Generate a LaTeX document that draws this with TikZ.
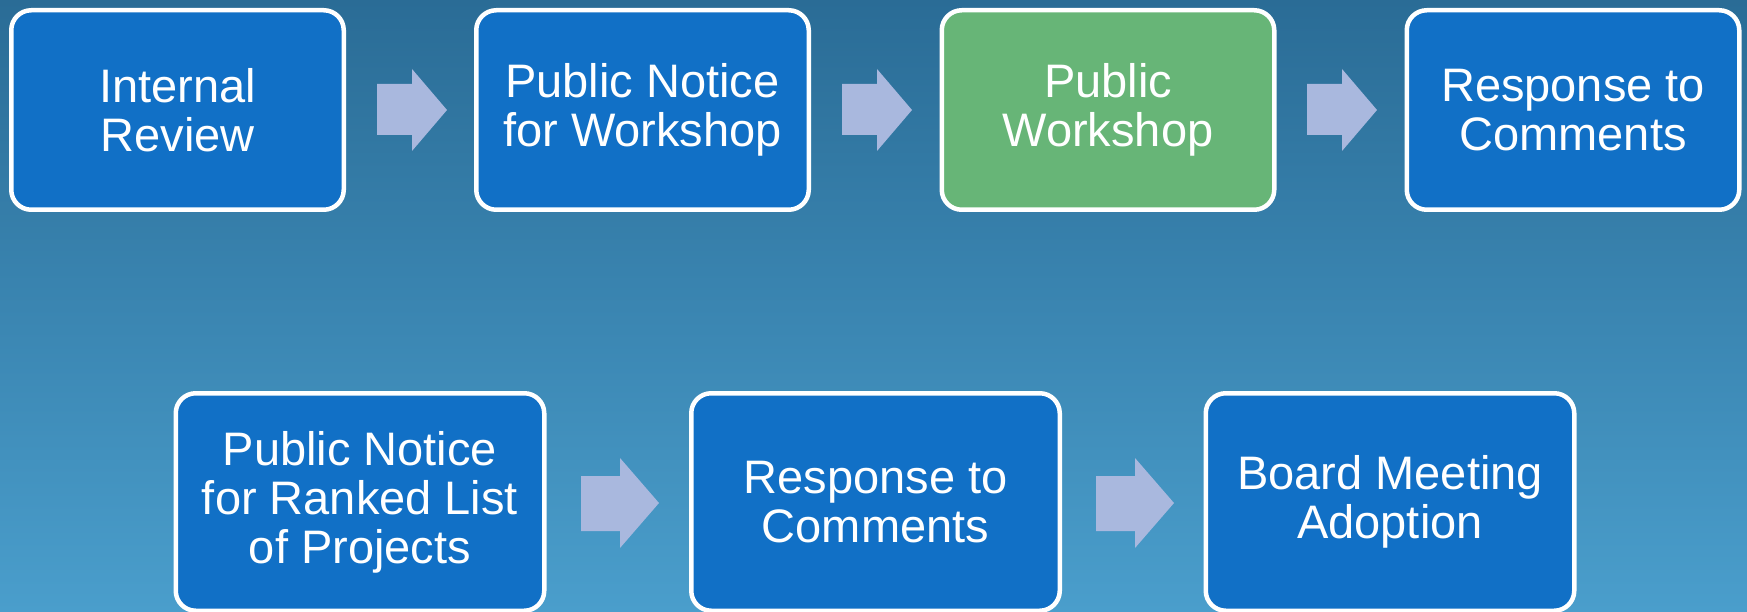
\documentclass[tikz,border=0pt]{standalone}
\usepackage{fontspec}
\setmainfont{Liberation Sans}
\definecolor{bgtop}{HTML}{2A6C96}
\definecolor{bgbot}{HTML}{4A9ECC}
\definecolor{boxblue}{HTML}{1170C6}
\definecolor{boxgreen}{HTML}{67B577}
\definecolor{arrowcol}{HTML}{A9B8DE}
\tikzset{
  stepbox/.style={draw=white, line width=4.5pt, rounded corners=20pt, fill=boxblue,
    text=white, align=center, inner sep=0pt,
    font=\fontsize{47}{49}\selectfont},
  toprow/.style={stepbox, minimum width=332.5pt, minimum height=199.5pt},
  botrow/.style={stepbox, minimum width=368.5pt, minimum height=217.5pt},
  blockarrow/.style={fill=arrowcol, draw=none}
}
\begin{document}
\begin{tikzpicture}[x=1pt, y=-1pt]
\useasboundingbox (0,0) rectangle (1747,612);
\shade[top color=bgtop, bottom color=bgbot] (0,0) rectangle (1747,612);

\node[toprow] (b1) at (177.5,110) {Internal\\Review};
\node[toprow] (b2) at (642.5,110) {Public Notice\\for Workshop};
\node[toprow, fill=boxgreen] (b3) at (1108,110) {Public\\Workshop};
\node[toprow] (b4) at (1573,110) {Response to\\Comments};

\node[botrow] (b5) at (360,502) {Public Notice\\for Ranked List\\of Projects};
\node[botrow] (b6) at (875.5,502) {Response to\\Comments};
\node[botrow] (b7) at (1390,502) {Board Meeting\\Adoption};

% top arrows
\foreach \dx in {0,465,930}{
  \fill[blockarrow] (377+\dx,84) -- (412+\dx,84) -- (412+\dx,69) -- (447+\dx,110)
    -- (412+\dx,151) -- (412+\dx,135) -- (377+\dx,135) -- cycle;
}
% bottom arrows
\foreach \dx in {0,515}{
  \fill[blockarrow] (581+\dx,476) -- (620+\dx,476) -- (620+\dx,458) -- (659+\dx,503)
    -- (620+\dx,548) -- (620+\dx,531) -- (581+\dx,531) -- cycle;
}
\end{tikzpicture}
\end{document}
